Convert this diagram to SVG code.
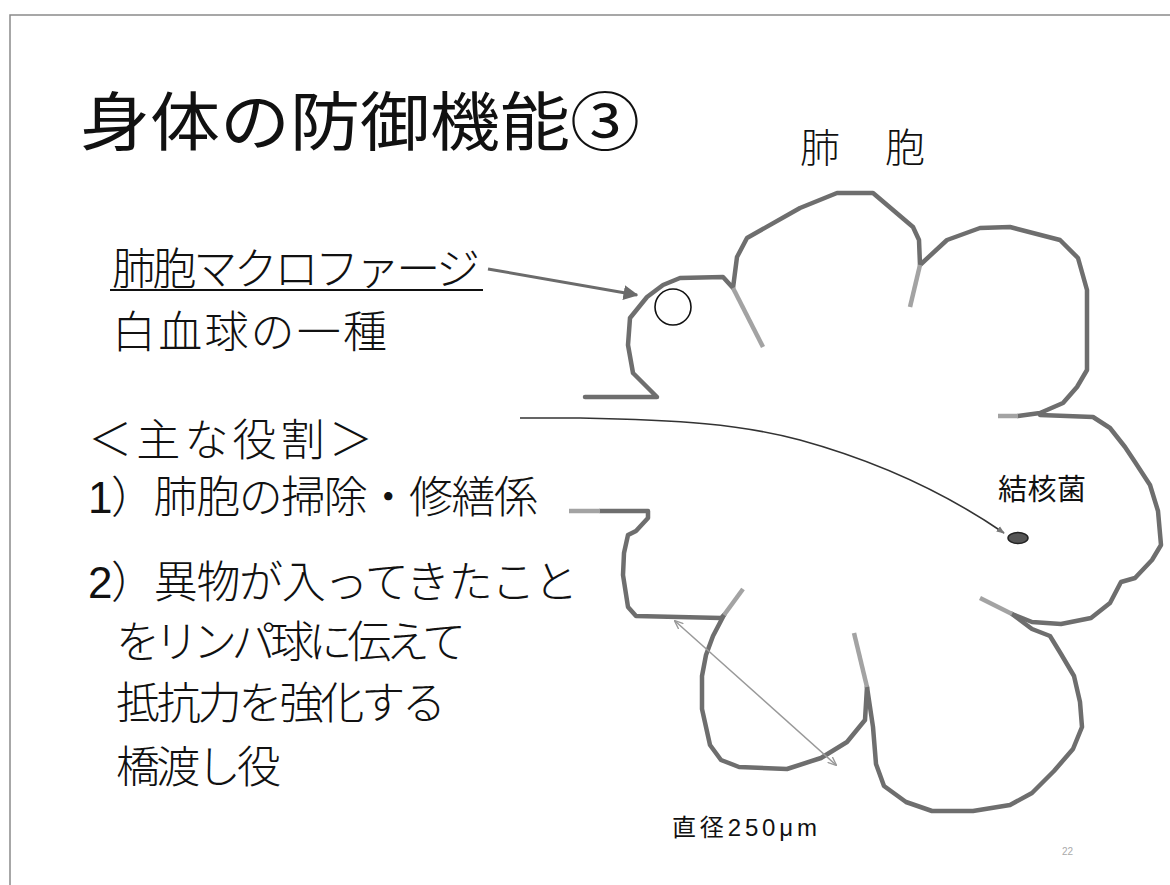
<svg xmlns="http://www.w3.org/2000/svg" width="1170" height="885" viewBox="0 0 1170 885">
  <style>
    .jp { font-family: "Liberation Sans", "Noto Sans CJK JP", sans-serif; fill: #111; }
    .body { font-size: 44px; font-weight: 300; }
    .wall { fill: none; stroke: #6e6e6e; stroke-width: 4.5; stroke-linejoin: round; stroke-linecap: round; }
    .septum { fill: none; stroke: #a3a3a3; stroke-width: 4.5; stroke-linecap: butt; }
  </style>
  <defs>
    <marker id="headGray" viewBox="0 0 10 10" refX="9" refY="5" markerWidth="5" markerHeight="5" orient="auto">
      <path d="M0,0 L10,5 L0,10 z" fill="#6b6b6b"/>
    </marker>
    <marker id="headThin" viewBox="0 0 10 10" refX="9" refY="5" markerWidth="6" markerHeight="6" orient="auto-start-reverse">
      <path d="M0,1 L10,5 L0,9" fill="none" stroke="#999" stroke-width="1.5"/>
    </marker>
    <marker id="headDark" viewBox="0 0 10 10" refX="9" refY="5" markerWidth="5" markerHeight="5" orient="auto">
      <path d="M0,1 L10,5 L0,9 z" fill="#777"/>
    </marker>
  </defs>

  <rect width="1170" height="885" fill="#fff"/>
  <!-- slide frame -->
  <path d="M10,885 L10,15 L1170,15" fill="none" stroke="#8a8a8a" stroke-width="1.5"/>

  <!-- title -->
  <g id="title">
    <text class="jp" x="80" y="145" font-size="64" textLength="560" lengthAdjust="spacingAndGlyphs">身体の防御機能③</text>
  </g>

  <g id="alveolus-label">
    <text class="jp" x="800 885" y="162" font-size="40" font-weight="300">肺胞</text>
  </g>

  <!-- alveolus outline -->
  <g id="alveolus">
    <!-- upper wall: mouth stub, macrophage lobe, top lobes, top-right lobe -->
    <path class="wall" d="M585,397 L657,397 L633,373 L628,345 L630,318 L647,297 L663,285 L680,278 L723,277 L733,288 L737,257 L747,238 L800,208 L837,193 L873,193 L913,227 L919,240 L920,265 L947,240 L980,228 L1010,227 L1060,240 L1078,258 L1087,290 L1087,370 L1077,387 L1063,403 L1040,413 L1018,416"/>
    <path class="septum" d="M1018,416 L998,416"/>
    <path class="septum" d="M733,288 L763,347"/>
    <path class="septum" d="M920,265 L910,307"/>
    <!-- right lobe -->
    <path class="wall" d="M1040,415 L1093,417 L1110,428 L1125,447 L1135,462 L1150,485 L1158,511 L1161,545 L1152,560 L1135,578 L1121,582 L1110,603 L1091,618 L1061,624 L1032,622 L1012,614"/>
    <!-- lower-right lobe -->
    <path class="wall" d="M1012,614 L1032,629 L1050,636 L1061,654 L1074,676 L1080,702 L1082,727 L1073,749 L1054,771 L1032,793 L1010,805 L973,811 L932,811 L906,802 L884,786 L876,764 L873,727 L867,687"/>
    <path class="septum" d="M1012,614 L980,598"/>
    <!-- lower-middle lobe -->
    <path class="wall" d="M867,687 L865,720 L847,742 L821,758 L787,769 L739,767 L721,760 L710,745 L702,709 L702,676 L706,655 L713,636 L724,615"/>
    <path class="septum" d="M867,687 L854,633"/>
    <!-- lower-left lobe and lower mouth stub -->
    <path class="wall" d="M724,615 L721,618 L636,616 L628,607 L623,575 L624,553 L628,535 L636,531 L648,518 L648,511 L600,511"/>
    <path class="septum" d="M600,511 L569,511"/>
    <path class="septum" d="M724,615 L743,589"/>
  </g>

  <!-- alveolar macrophage -->
  <g id="macrophage">
    <circle cx="673" cy="307" r="18" fill="none" stroke="#111" stroke-width="1.6"/>
  </g>

  <!-- tubercle bacillus -->
  <g id="bacillus">
    <ellipse cx="1018" cy="538" rx="10" ry="5.5" fill="#555" stroke="#222" stroke-width="1.5"/>
    <text class="jp" x="998" y="500" font-size="29" textLength="88">結核菌</text>
  </g>

  <!-- labels on the left -->
  <g id="macrophage-label">
    <text class="jp body" x="112" y="285" textLength="368">肺胞マクロファージ</text>
    <line x1="110" y1="290" x2="483" y2="290" stroke="#111" stroke-width="2"/>
    <text class="jp body" x="112" y="348" textLength="275">白血球の一種</text>
  </g>

  <g id="roles">
    <text class="jp body" x="88" y="456" textLength="285">＜主な役割＞</text>
    <text class="jp body" x="88" y="513" textLength="450">1）肺胞の掃除・修繕係</text>
    <text class="jp body" x="88" y="598" textLength="490">2）異物が入ってきたこと</text>
    <text class="jp body" x="116" y="658" textLength="350">をリンパ球に伝えて</text>
    <text class="jp body" x="116" y="719" textLength="330">抵抗力を強化する</text>
    <text class="jp body" x="116" y="783" textLength="165">橋渡し役</text>
  </g>

  <g id="diameter">
    <text class="jp" x="672" y="836" font-size="24" textLength="145">直径250μm</text>
  </g>

  <g id="page-number">
    <text x="1062" y="855" font-family="Liberation Sans, sans-serif" font-size="10" fill="#aaa">22</text>
  </g>

  <!-- connectors -->
  <g id="connectors">
    <line x1="488" y1="269" x2="637" y2="295" stroke="#6b6b6b" stroke-width="3" marker-end="url(#headGray)"/>
    <path d="M520,418 L580,418 C680,420 740,424 800,440 C880,462 950,496 1004,533" fill="none" stroke="#333" stroke-width="1.6" marker-end="url(#headDark)"/>
    <line x1="675" y1="621" x2="836" y2="765" stroke="#999" stroke-width="1.5" marker-start="url(#headThin)" marker-end="url(#headThin)"/>
  </g>
</svg>
